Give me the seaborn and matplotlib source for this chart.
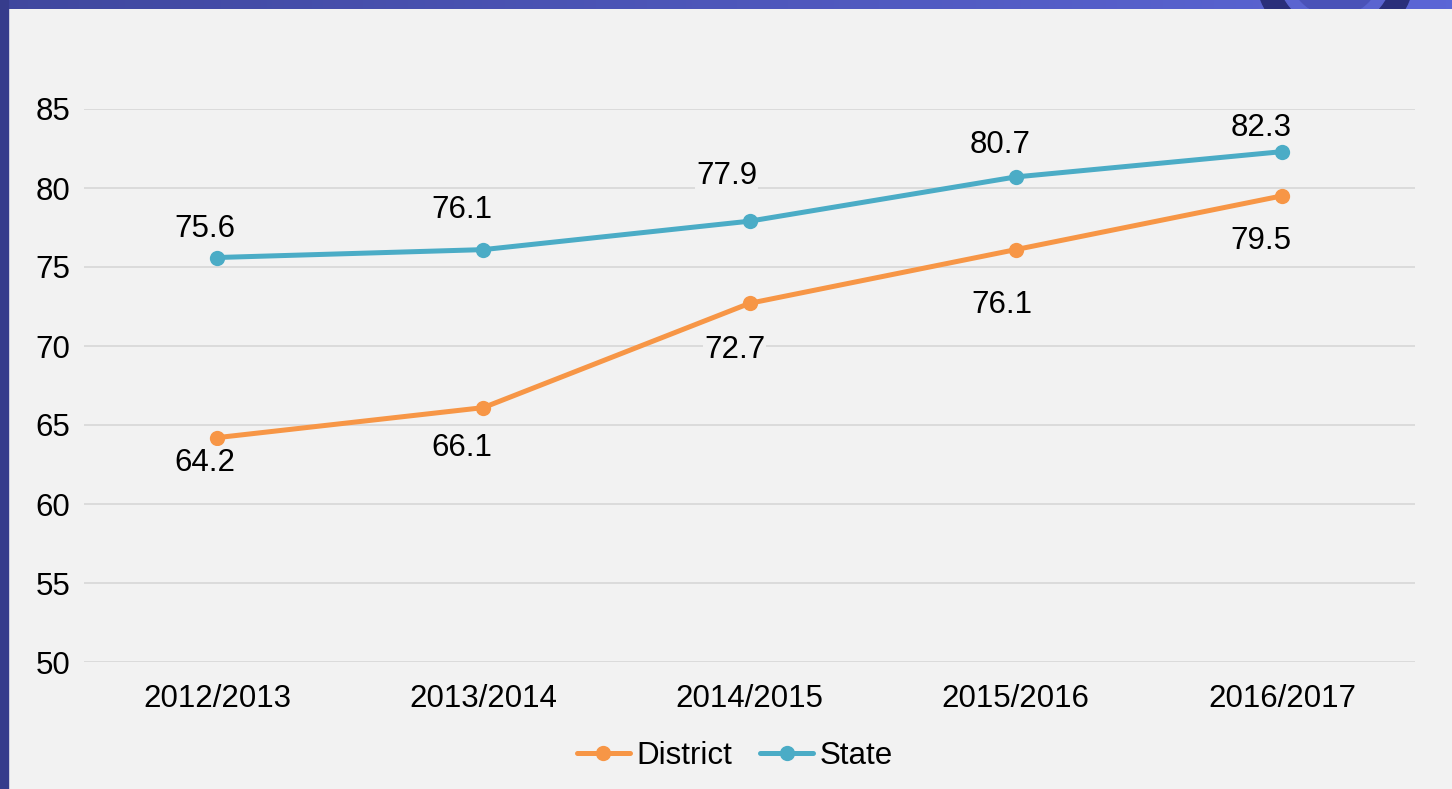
import numpy as np
import pandas as pd
import matplotlib
matplotlib.use("Agg")
import matplotlib.pyplot as plt
import seaborn as sns

# data
years = ["2012/2013", "2013/2014", "2014/2015", "2015/2016", "2016/2017"]
district = [64.2, 66.1, 72.7, 76.1, 79.5]
state = [75.6, 76.1, 77.9, 80.7, 82.3]
y_ticks = [50, 55, 60, 65, 70, 75, 80, 85]

# label placement offsets in pixels (dx, dy) -- style only
state_off = [(-12, 29), (-21, 40), (-23, 45), (-16, 32), (-21, 24)]
district_off = [(-12, -25), (-21, -40), (-15, -47), (-14, -55), (-21, -45)]

df = pd.DataFrame({
    "Year": years * 2,
    "Value": district + state,
    "Series": ["District"] * len(years) + ["State"] * len(years),
})

sns.set_style("white")
plt.rcParams["font.family"] = ["Liberation Sans", "DejaVu Sans"]
plt.rcParams["text.color"] = "black"
plt.rcParams["xtick.color"] = "black"
plt.rcParams["ytick.color"] = "black"

BG = "#f2f2f2"
FS = 22.5
colors = {"District": "#f79646", "State": "#4bacc6"}

fig = plt.figure(figsize=(14.52, 7.89), dpi=100)
fig.patch.set_facecolor(BG)

# blue frame strips (top gradient + left strip)
frame = fig.add_axes([0, 0, 1, 1], zorder=0)
frame.set_xlim(0, 1452)
frame.set_ylim(789, 0)
frame.axis("off")
grad = np.linspace(0, 1, 256)
top_cols = np.array([[0.25, 0.28, 0.62]]) * (1 - grad[:, None]) + np.array([[0.36, 0.40, 0.84]]) * grad[:, None]
frame.imshow(top_cols[None, :, :], extent=(0, 1452, 9, 0), aspect="auto")
clip = plt.Rectangle((0, 0), 1452, 9, transform=frame.transData, visible=False)
frame.add_patch(clip)
for r, c in [(80, "#2a2f7a"), (58, "#5a64d0"), (46, "#4a52b8")]:
    circ = plt.Circle((1335, -30), r, color=c)
    frame.add_patch(circ)
    circ.set_clip_path(clip)
frame.add_patch(plt.Rectangle((0, 0), 8, 789, color="#363c8c"))

ax = fig.add_axes([84 / 1452, 1 - 662 / 789, (1415 - 84) / 1452, (662 - 109) / 789], zorder=1)
ax.set_facecolor(BG)

sns.lineplot(data=df, x="Year", y="Value", hue="Series", palette=colors,
             marker="o", markersize=11, markeredgewidth=0, linewidth=3.6,
             sort=False, ax=ax)

ax.set_xlim(-0.5, len(years) - 0.5)
ax.set_ylim(50, 85)
ax.set_yticks(y_ticks)
ax.grid(axis="y", color="#d9d9d9", linewidth=1.3)
ax.set_axisbelow(True)
for s in ax.spines.values():
    s.set_visible(False)
ax.tick_params(axis="both", length=0, labelsize=FS)
ax.tick_params(axis="x", pad=16)
ax.tick_params(axis="y", pad=10)
ax.set_xlabel("")
ax.set_ylabel("")

px = 0.72  # pixels -> points at 100 dpi
box = dict(facecolor=BG, edgecolor="none", pad=1.0)
for i, v in enumerate(state):
    dx, dy = state_off[i]
    ax.annotate(f"{v}", (i, v), xytext=(dx * px, dy * px), textcoords="offset points",
                ha="center", va="center", fontsize=FS, bbox=box)
for i, v in enumerate(district):
    dx, dy = district_off[i]
    ax.annotate(f"{v}", (i, v), xytext=(dx * px, dy * px), textcoords="offset points",
                ha="center", va="center", fontsize=FS, bbox=box)

ax.legend(loc="center", bbox_to_anchor=(0.489, -0.17), ncol=2, frameon=False,
          fontsize=FS, handlelength=1.7, handletextpad=0.2, columnspacing=0.9,
          borderpad=0)

fig.savefig("out.png", dpi=100, facecolor=BG)
